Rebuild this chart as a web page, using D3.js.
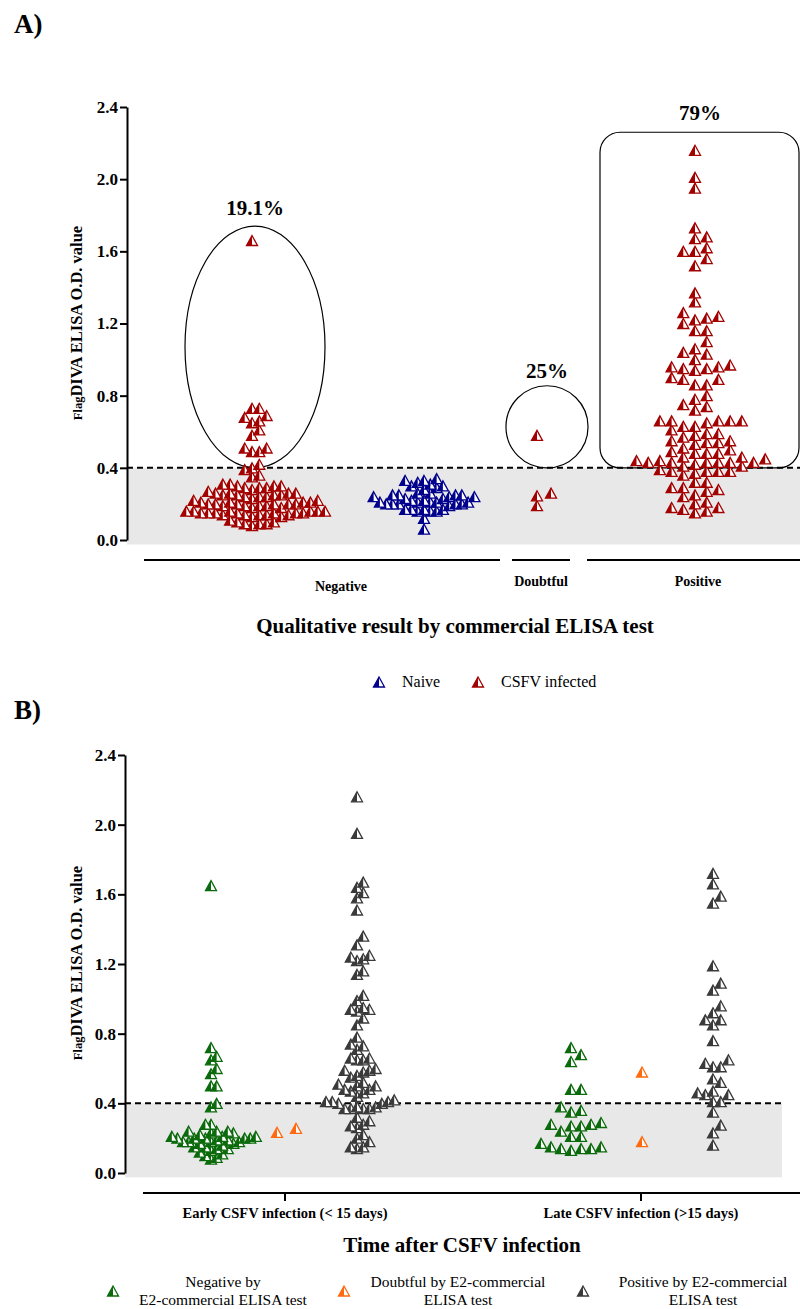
<!DOCTYPE html>
<html>
<head>
<meta charset="utf-8">
<script src="https://cdn.jsdelivr.net/npm/d3@7"></script>
<style>
    body { margin: 0; background: #fff; }
    svg { display: block; font-family: "Liberation Serif", "Times New Roman", serif; }
</style>
</head>
<body>
<svg id="chart"></svg>
<script>
// === DATA ===

const TICKS = [0, 0.4, 0.8, 1.2, 1.6, 2.0, 2.4];
const CUTOFF = 0.4;

// Panel A: FlagDIVA O.D. grouped by commercial ELISA result
const A_CATEGORIES = ['Negative', 'Doubtful', 'Positive'];
const A_PERCENTS = ['19.1%', '25%', '79%'];

const A_NEG_INFECTED = [
    1.66, 0.73, 0.73, 0.69, 0.68, 0.66, 0.65, 0.61, 0.58, 0.51, 0.51, 0.49, 0.49,
    0.42, 0.40, 0.39, 0.36, 0.35,
    0.31, 0.30, 0.30, 0.29, 0.29, 0.30, 0.28, 0.29, 0.31,
    0.26, 0.25, 0.27, 0.25, 0.24, 0.26, 0.25, 0.24, 0.23, 0.26, 0.25, 0.24, 0.26,
    0.21, 0.20, 0.22, 0.19, 0.20, 0.21, 0.19, 0.20, 0.22, 0.18, 0.20, 0.19, 0.21,
    0.20, 0.19, 0.18, 0.20, 0.21,
    0.16, 0.15, 0.14, 0.16, 0.15, 0.13, 0.15, 0.16, 0.14, 0.15, 0.13, 0.16, 0.15,
    0.14, 0.16, 0.15, 0.14, 0.16, 0.15, 0.14,
    0.09, 0.10, 0.09, 0.08, 0.10, 0.11, 0.09
];

const A_NEG_NAIVE = [
    0.33, 0.34, 0.33, 0.31, 0.32, 0.30, 0.29, 0.30, 0.28, 0.26, 0.26, 0.25,
    0.25, 0.24, 0.23, 0.25, 0.24, 0.23, 0.24, 0.25,
    0.21, 0.20, 0.21, 0.20, 0.19, 0.22, 0.20, 0.21, 0.21, 0.22, 0.20, 0.21, 0.20,
    0.17, 0.17, 0.16, 0.16, 0.17, 0.16, 0.17, 0.12, 0.06
];

const A_DOUBTFUL = [0.58, 0.26, 0.245, 0.19];

const A_POSITIVE = [
    2.16, 2.01, 1.95, 1.73, 1.67, 1.68, 1.62, 1.60, 1.60, 1.56, 1.52, 1.37, 1.32,
    1.26, 1.24, 1.23, 1.22, 1.20, 1.16, 1.16, 1.10, 1.04, 1.06, 1.03, 1.00,
    0.95, 0.97, 0.96, 0.94, 0.95, 0.96, 0.90, 0.89, 0.89, 0.86, 0.86, 0.80,
    0.78, 0.75, 0.74, 0.72, 0.66, 0.66, 0.66, 0.66, 0.65, 0.66, 0.63, 0.63,
    0.61, 0.59, 0.59, 0.58, 0.57, 0.55, 0.55, 0.54, 0.54, 0.53, 0.51, 0.50,
    0.49, 0.48, 0.48, 0.48, 0.46, 0.46, 0.45, 0.44, 0.43, 0.44, 0.43, 0.43,
    0.41, 0.41, 0.43, 0.42, 0.43, 0.43, 0.38, 0.38, 0.36, 0.39, 0.37, 0.38,
    0.38, 0.32, 0.32, 0.28, 0.29, 0.27, 0.29, 0.24, 0.25, 0.21, 0.20, 0.17,
    0.18, 0.15, 0.18, 0.16
];

// Panel B: FlagDIVA O.D. by time after infection
const B_CATEGORIES = ['Early CSFV infection (< 15 days)', 'Late CSFV infection (>15 days)'];

const B_EARLY_NEG = [
    1.65, 0.72, 0.67, 0.65, 0.60, 0.57, 0.50, 0.50, 0.40, 0.38, 0.28, 0.28,
    0.24, 0.23, 0.24, 0.24, 0.23, 0.21, 0.20, 0.20, 0.21, 0.20, 0.19, 0.20,
    0.21, 0.20, 0.22, 0.18, 0.17, 0.18, 0.18, 0.19, 0.17, 0.18, 0.15, 0.14,
    0.15, 0.14, 0.12, 0.10, 0.09, 0.08, 0.11, 0.13, 0.16
];
const B_EARLY_DOUBT = [0.233, 0.256];
const B_EARLY_POS = [
    2.16, 1.95, 1.67, 1.64, 1.61, 1.58, 1.51, 1.36, 1.31, 1.25, 1.23, 1.22,
    1.24, 1.16, 1.14, 1.02, 0.99, 0.95, 0.93, 0.94, 0.94, 0.89, 0.85, 0.78,
    0.74, 0.73, 0.71, 0.66, 0.65, 0.65, 0.66, 0.59, 0.60, 0.58, 0.59, 0.55,
    0.56, 0.51, 0.50, 0.52, 0.48, 0.46, 0.50, 0.48, 0.47, 0.42, 0.41, 0.41,
    0.40, 0.41, 0.40, 0.44, 0.37, 0.38, 0.37, 0.38, 0.37, 0.37, 0.32, 0.30,
    0.28, 0.27, 0.26, 0.22, 0.20, 0.18, 0.15, 0.15, 0.14
];
const B_LATE_NEG = [
    0.72, 0.68, 0.64, 0.48, 0.48, 0.38, 0.36, 0.35, 0.29, 0.28, 0.27, 0.28,
    0.27, 0.24, 0.21, 0.21, 0.17, 0.14, 0.15, 0.14, 0.13, 0.15, 0.14
];
const B_LATE_DOUBT = [0.58, 0.18];
const B_LATE_POS = [
    1.72, 1.66, 1.59, 1.55, 1.19, 1.09, 1.05, 0.96, 0.92, 0.88, 0.88, 0.85,
    0.76, 0.65, 0.61, 0.61, 0.63, 0.54, 0.52, 0.47, 0.45, 0.45, 0.46, 0.41,
    0.41, 0.35, 0.275, 0.23, 0.16
];

const LEGEND_A = ['Naive', 'CSFV infected'];
const LEGEND_B = [
    ['Negative by', 'E2-commercial ELISA test'],
    ['Doubtful by E2-commercial', 'ELISA test'],
    ['Positive by E2-commercial', 'ELISA test']
];

// === STYLE ===

const COLORS = {
    infected: '#a30000',
    naive:    '#00008c',
    neg:      '#0b6a0b',
    doubt:    '#ff6a10',
    pos:      '#3a3a3a'
};
const GREY_ZONE = '#e8e8e8';
const FONT_BOLD = 700;

const svg = d3.select('#chart').attr('width', 800).attr('height', 1309);

// === HELPERS ===

// simple column beeswarm: each point goes to the nearest free column
function swarm(values, y, cx, step, minDy) {
    const placed = [];
    values.slice().sort((a, b) => a - b).forEach(v => {
        const py = y(v);
        for (let k = 0; k < 80; k++) {
            const off = k === 0 ? 0 : (k % 2 ? (k + 1) / 2 : -k / 2);
            const px = cx + off * step;
            const hit = placed.some(p => Math.abs(p.x - px) < step / 2 && Math.abs(p.y - py) < minDy);
            if (!hit) { placed.push({ x: px, y: py, v }); break; }
        }
    });
    return placed;
}

function halfTriangle(g, x, y, color, w = 11, h = 10) {
    const m = g.append('g').attr('transform', `translate(${x},${y})`);
    m.append('path')
        .attr('d', `M0,${-h / 2}L${w / 2},${h / 2}L${-w / 2},${h / 2}Z`)
        .attr('fill', '#fff')
        .attr('stroke', color)
        .attr('stroke-width', 1.3);
    m.append('path')
        .attr('d', `M0,${-h / 2}L0,${h / 2}L${-w / 2},${h / 2}Z`)
        .attr('fill', color);
}

function drawGroup(g, values, y, cx, step, minDy, color) {
    swarm(values, y, cx, step, minDy).forEach(p => halfTriangle(g, p.x, p.y, color));
}

function yAxis(y, x, label, labelY) {
    const ax = svg.append('g')
        .attr('transform', `translate(${x},0)`)
        .call(d3.axisLeft(y).tickValues(TICKS).tickFormat(d3.format('.1f')).tickSize(7).tickSizeOuter(0).tickPadding(2));
    ax.attr('font-family', '"Liberation Serif", serif').attr('font-size', 17);
    ax.select('.domain').attr('stroke', '#000').attr('stroke-width', 2);
    ax.selectAll('.tick line').attr('stroke', '#000').attr('stroke-width', 2);
    ax.selectAll('.tick text')
        .attr('font-weight', FONT_BOLD)
        .attr('fill', '#000');

    const t = svg.append('text')
        .attr('transform', `translate(82,${labelY}) rotate(-90)`)
        .attr('text-anchor', 'middle')
        .attr('font-weight', FONT_BOLD)
        .attr('font-size', 16.5);
    t.append('tspan').attr('font-size', 12.5).text('Flag');
    t.append('tspan').text(label);
}

function cutoffZone(y, x0, x1) {
    svg.append('rect')
        .attr('x', x0).attr('y', y(CUTOFF))
        .attr('width', x1 - x0).attr('height', y(-0.025) - y(CUTOFF))
        .attr('fill', GREY_ZONE);
    svg.append('line')
        .attr('x1', x0).attr('x2', x1)
        .attr('y1', y(CUTOFF)).attr('y2', y(CUTOFF))
        .attr('stroke', '#000').attr('stroke-width', 2)
        .attr('stroke-dasharray', '6,4');
}

// === PANEL A ===

const yA = d3.scaleLinear().domain([0, 2.4]).range([540, 107]);
const AXIS_A = 127;

svg.append('text').attr('x', 14).attr('y', 33)
    .attr('font-size', 27).attr('font-weight', FONT_BOLD).text('A)');

cutoffZone(yA, AXIS_A, 800);
yAxis(yA, AXIS_A, 'DIVA ELISA O.D. value', 323);

// annotation shapes around the groups above the cut-off
svg.append('ellipse')
    .attr('cx', 255).attr('cy', (yA(0.4) + yA(1.74)) / 2)
    .attr('rx', 70).attr('ry', (yA(0.4) - yA(1.74)) / 2)
    .attr('fill', 'none').attr('stroke', '#000').attr('stroke-width', 1.2);
svg.append('circle')
    .attr('cx', 547).attr('cy', (yA(0.4) + yA(0.855)) / 2)
    .attr('r', (yA(0.4) - yA(0.855)) / 2)
    .attr('fill', 'none').attr('stroke', '#000').attr('stroke-width', 1.2);
svg.append('rect')
    .attr('x', 600).attr('y', yA(2.26))
    .attr('width', 199).attr('height', yA(0.4) - yA(2.26))
    .attr('rx', 20)
    .attr('fill', 'none').attr('stroke', '#000').attr('stroke-width', 1.2);

const gA = svg.append('g');
drawGroup(gA, A_NEG_INFECTED, yA, 252, 7.3, 9, COLORS.infected);
drawGroup(gA, A_NEG_NAIVE, yA, 424, 6.3, 9, COLORS.naive);
drawGroup(gA, A_DOUBTFUL, yA, 537, 14, 9, COLORS.infected);
drawGroup(gA, A_POSITIVE, yA, 695, 11.7, 8, COLORS.infected);

// percentages
[[255, 215], [547, 378], [700, 120]].forEach(([x, y], i) => {
    svg.append('text').attr('x', x).attr('y', y)
        .attr('text-anchor', 'middle')
        .attr('font-size', 21).attr('font-weight', FONT_BOLD)
        .text(A_PERCENTS[i]);
});

// category brackets
const bracketsA = [[144, 500], [512, 570], [587, 800]];
const labelsA = [[341, 591], [541, 586], [698, 586]];
bracketsA.forEach(([x1, x2], i) => {
    svg.append('line').attr('x1', x1).attr('x2', x2).attr('y1', 560).attr('y2', 560)
        .attr('stroke', '#000').attr('stroke-width', 2);
    svg.append('text').attr('x', labelsA[i][0]).attr('y', labelsA[i][1])
        .attr('text-anchor', 'middle')
        .attr('font-size', 14).attr('font-weight', FONT_BOLD)
        .text(A_CATEGORIES[i]);
});

svg.append('text').attr('x', 455).attr('y', 633)
    .attr('text-anchor', 'middle')
    .attr('font-size', 21).attr('font-weight', FONT_BOLD)
    .text('Qualitative result by commercial ELISA test');

// legend A
[[379, COLORS.naive], [478, COLORS.infected]].forEach(([x, c], i) => {
    halfTriangle(svg, x, 682, c);
    svg.append('text').attr('x', x + 23).attr('y', 687)
        .attr('font-size', 16).text(LEGEND_A[i]);
});

// === PANEL B ===

const yB = d3.scaleLinear().domain([0, 2.4]).range([1173, 755]);
const AXIS_B = 125;

svg.append('text').attr('x', 14).attr('y', 719)
    .attr('font-size', 27).attr('font-weight', FONT_BOLD).text('B)');

cutoffZone(yB, AXIS_B, 782);
yAxis(yB, AXIS_B, 'DIVA ELISA O.D. value', 963);

const gB = svg.append('g');
drawGroup(gB, B_EARLY_NEG, yB, 211, 5.6, 7, COLORS.neg);
drawGroup(gB, B_EARLY_DOUBT, yB, 277, 19, 9, COLORS.doubt);
drawGroup(gB, B_EARLY_POS, yB, 357, 6.2, 9, COLORS.pos);
drawGroup(gB, B_LATE_NEG, yB, 571, 10, 9, COLORS.neg);
drawGroup(gB, B_LATE_DOUBT, yB, 642, 10, 9, COLORS.doubt);
drawGroup(gB, B_LATE_POS, yB, 713, 7.7, 9, COLORS.pos);

// x axis B
const xB = d3.scalePoint().domain(B_CATEGORIES).range([285, 641]);
svg.append('line').attr('x1', 143).attr('x2', 800).attr('y1', 1193).attr('y2', 1193)
    .attr('stroke', '#000').attr('stroke-width', 2);
B_CATEGORIES.forEach(c => {
    svg.append('line').attr('x1', xB(c)).attr('x2', xB(c)).attr('y1', 1193).attr('y2', 1201)
        .attr('stroke', '#000').attr('stroke-width', 2);
    svg.append('text').attr('x', xB(c)).attr('y', 1218)
        .attr('text-anchor', 'middle')
        .attr('font-size', 14.5).attr('font-weight', FONT_BOLD)
        .text(c);
});

svg.append('text').attr('x', 462).attr('y', 1252)
    .attr('text-anchor', 'middle')
    .attr('font-size', 21).attr('font-weight', FONT_BOLD)
    .text('Time after CSFV infection');

// legend B
[[113, 223, COLORS.neg], [344, 458, COLORS.doubt], [583, 703, COLORS.pos]].forEach(([mx, tx, c], i) => {
    halfTriangle(svg, mx, 1291, c);
    const t = svg.append('text').attr('text-anchor', 'middle').attr('font-size', 15.5);
    t.append('tspan').attr('x', tx).attr('y', 1287).text(LEGEND_B[i][0]);
    t.append('tspan').attr('x', tx).attr('y', 1305).text(LEGEND_B[i][1]);
});
</script>
</body>
</html>
